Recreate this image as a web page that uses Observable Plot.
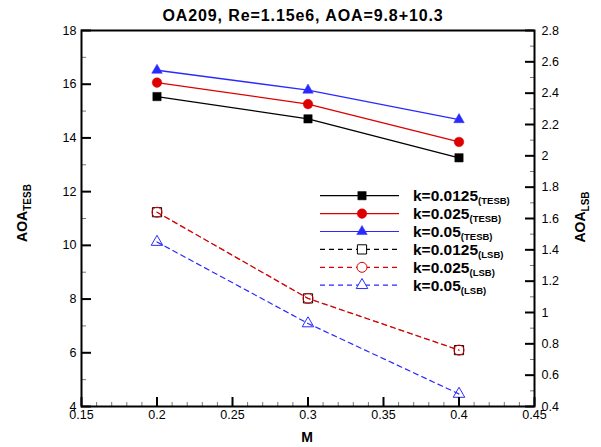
<!DOCTYPE html>
<html><head><meta charset="utf-8">
<script src="https://cdn.jsdelivr.net/npm/d3@7"></script>
<script src="https://cdn.jsdelivr.net/npm/@observablehq/plot@0.6"></script>
<style>
body{margin:0;background:#fff;}
#chart{position:relative;width:601px;height:447px;}
</style>
</head><body><div id="chart"></div>
<script>
// ---- data ----
const machs = [0.2, 0.3, 0.4];
const tesbK0125 = [15.54, 14.71, 13.26];
const tesbK025 = [16.06, 15.26, 13.85];
const tesbK05 = [16.52, 15.78, 14.68];
const lsbK0125 = [1.64, 1.09, 0.76];
const lsbK025 = [1.64, 1.09, 0.76];
const lsbK05 = [1.45, 0.93, 0.48];
const seriesNames = ["k=0.0125", "k=0.025", "k=0.05", "k=0.0125", "k=0.025", "k=0.05"];
const seriesSubs = ["(TESB)", "(TESB)", "(TESB)", "(LSB)", "(LSB)", "(LSB)"];
const leftTicks = [4, 6, 8, 10, 12, 14, 16, 18];
const leftMinor = [5, 7, 9, 11, 13, 15, 17];
const rightTicks = [0.4, 0.6, 0.8, 1, 1.2, 1.4, 1.6, 1.8, 2, 2.2, 2.4, 2.6, 2.8];
const rightMinor = [0.5, 0.7, 0.9, 1.1, 1.3, 1.5, 1.7, 1.9, 2.1, 2.3, 2.5, 2.7];
const xTicks = [0.15, 0.2, 0.25, 0.3, 0.35, 0.4, 0.45];
const xMinor = d3.range(15, 46).filter(v => v % 5 !== 0).map(v => v / 100);
const titleText = "OA209, Re=1.15e6, AOA=9.8+10.3";

// ---- layout ----
const W = 601, H = 447;
const mL = 81, mR = 67, mT = 30, mB = 41;
const fw = W - mL - mR, fh = H - mT - mB;
const leftDom = [4, 18], rightDom = [0.4, 2.8];
const toLeft = v => leftDom[0] + (v - rightDom[0]) * (leftDom[1] - leftDom[0]) / (rightDom[1] - rightDom[0]);
const fromLeft = d => rightDom[0] + (d - leftDom[0]) * (rightDom[1] - rightDom[0]) / (leftDom[1] - leftDom[0]);

const RED = "#dd0000", BLUE = "#2a2aff", BLACK = "#000000";
const styles = [
  {color: BLACK, symbol: "square", fill: BLACK, dash: null, r: 4.7, w: 1.3},
  {color: RED, symbol: "circle", fill: RED, dash: null, r: 4.8, w: 1.3},
  {color: BLUE, symbol: "triangle", fill: BLUE, dash: null, r: 3.9, w: 1.3},
  {color: BLACK, symbol: "square", fill: "none", dash: "5,4", r: 5.2, w: 0.5},
  {color: RED, symbol: "circle", fill: "none", dash: "5,4", r: 5, w: 1.3},
  {color: BLUE, symbol: "triangle", fill: "none", dash: "5,4", r: 4.3, w: 1.2}
];
const values = [tesbK0125, tesbK025, tesbK05, lsbK0125, lsbK025, lsbK05];
const rows = values.map((arr, s) => machs.map((m, i) => ({M: m, y: s >= 3 ? toLeft(arr[i]) : arr[i], s})));

const drawOrder = [3, 4, 5, 0, 1, 2];
const marks = [];
for (const s of drawOrder) {
  const st = styles[s];
  marks.push(Plot.line(rows[s], {x: "M", y: "y", stroke: st.color, strokeWidth: st.w, strokeDasharray: st.dash}));
}
for (const s of drawOrder) {
  const st = styles[s];
  marks.push(Plot.dot(rows[s], {x: "M", y: "y", symbol: () => st.symbol, r: st.r, fill: st.fill, stroke: st.color, strokeWidth: st.fill === "none" ? 1 : 0.5}));
}

const font = "'Liberation Sans', Arial, Helvetica, sans-serif";

const plot = Plot.plot({
  width: W, height: H,
  marginLeft: mL, marginRight: mR, marginTop: mT, marginBottom: mB,
  style: {fontFamily: font, background: "#fff", color: "#000"},
  x: {domain: [0.15, 0.45]},
  y: {domain: leftDom},
  marks: [
    ...marks,
    // inward ticks
    Plot.tickY(leftTicks, {y: d => d, stroke: "#000", strokeWidth: 2, insetRight: fw - 10}),
    Plot.tickY(leftMinor, {y: d => d, stroke: "#777", strokeWidth: 1, insetRight: fw - 5}),
    Plot.tickY(rightTicks.map(toLeft), {y: d => d, stroke: "#000", strokeWidth: 2, insetLeft: fw - 9}),
    Plot.tickY(rightMinor.map(toLeft), {y: d => d, stroke: "#777", strokeWidth: 1, insetLeft: fw - 4}),
    Plot.tickX(xTicks, {x: d => d, stroke: "#000", strokeWidth: 2, insetTop: fh - 9}),
    Plot.tickX(xMinor, {x: d => d, stroke: "#777", strokeWidth: 1, insetTop: fh - 4}),
    Plot.axisY({ticks: leftTicks, tickSize: 0, tickPadding: 5, label: null, fontSize: 12.5, tickFormat: d => String(d)}),
    Plot.axisY({anchor: "right", ticks: rightTicks.map(toLeft), tickSize: 0, tickPadding: 7, label: null, fontSize: 12.5,
      tickFormat: d => String(+fromLeft(d).toFixed(1))}),
    Plot.axisX({ticks: xTicks, tickSize: 0, tickPadding: 4, label: null, fontSize: 12.5, tickFormat: d => String(+d.toFixed(2))}),
    Plot.frame({stroke: "#000", strokeWidth: 2})
  ]
});
document.getElementById("chart").appendChild(plot);

const svg = d3.select(plot);
// title
svg.append("text").attr("x", 303).attr("y", 21).attr("text-anchor", "middle")
  .attr("font-family", font).attr("font-weight", "bold").attr("font-size", 16).attr("letter-spacing", "0.9px")
  .attr("fill", "#000").text(titleText);

// x label
svg.append("text").attr("x", 307).attr("y", 442).attr("text-anchor", "middle")
  .attr("font-family", font).attr("font-weight", "bold").attr("font-size", 14).attr("fill", "#000").text("M");

// y labels with subscripts
function yLabel(x, y, main, sub) {
  const t = svg.append("text").attr("transform", `translate(${x},${y}) rotate(-90)`).attr("text-anchor", "middle")
    .attr("font-family", font).attr("font-weight", "bold").attr("fill", "#000");
  t.append("tspan").attr("font-size", 14).text(main);
  t.append("tspan").attr("font-size", 10).attr("dy", 4).text(sub);
}
yLabel(27, 213, "AOA", "TESB");
yLabel(585, 217, "AOA", "LSB");

// legend
const lg = svg.append("g").attr("text-anchor", "start");
const rowY0 = 195.7, rowStep = 17.9;
styles.forEach((st, i) => {
  const y = rowY0 + i * rowStep;
  lg.append("line").attr("x1", 320).attr("x2", 399).attr("y1", y).attr("y2", y)
    .attr("stroke", st.color).attr("stroke-width", 1.2).attr("stroke-dasharray", st.dash);
  const sym = {square: d3.symbolSquare, circle: d3.symbolCircle, triangle: d3.symbolTriangle}[st.symbol];
  lg.append("path").attr("transform", `translate(362,${y})`)
    .attr("d", d3.symbol(sym, Math.PI * st.r * st.r)())
    .attr("fill", st.fill === "none" ? "#fff" : st.fill).attr("stroke", st.color).attr("stroke-width", st.fill === "none" ? 1 : 0.5);
  const t = lg.append("text").attr("x", 413).attr("y", y + 5.5).attr("text-anchor", "start")
    .attr("font-family", font).attr("font-weight", "bold").attr("fill", "#000");
  t.append("tspan").attr("font-size", 15.5).text(seriesNames[i]);
  t.append("tspan").attr("font-size", 9.5).attr("dy", 3).text(seriesSubs[i]);
});
</script>
</body></html>
